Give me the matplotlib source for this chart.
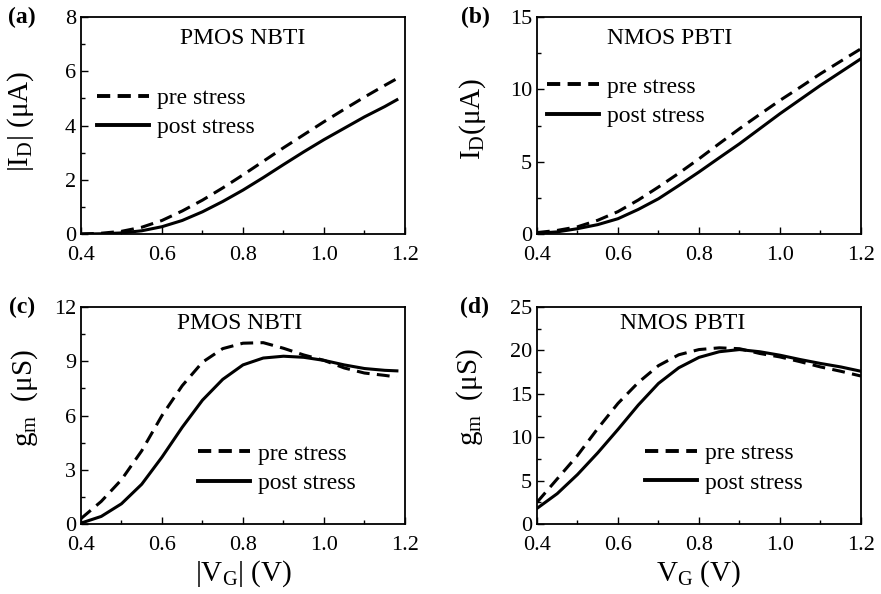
import matplotlib
matplotlib.use("Agg")
import matplotlib.pyplot as plt
from matplotlib.ticker import MultipleLocator, FormatStrFormatter

plt.rcParams['font.family'] = ['Liberation Serif', 'DejaVu Serif']
plt.rcParams['mathtext.default'] = 'regular'

# ---- data ----
vg_p = [0.40, 0.45, 0.50, 0.55, 0.60, 0.65, 0.70, 0.75, 0.80, 0.85, 0.90, 0.95, 1.00, 1.05, 1.10, 1.15, 1.18]
id_p_pre = [0.0, 0.03, 0.10, 0.25, 0.50, 0.85, 1.25, 1.70, 2.18, 2.68, 3.18, 3.66, 4.14, 4.60, 5.05, 5.48, 5.73]
id_p_post = [0.0, 0.01, 0.04, 0.12, 0.27, 0.50, 0.82, 1.20, 1.62, 2.08, 2.56, 3.03, 3.48, 3.90, 4.32, 4.70, 4.95]

vg_n = [0.40, 0.45, 0.50, 0.55, 0.60, 0.65, 0.70, 0.75, 0.80, 0.85, 0.90, 0.95, 1.00, 1.05, 1.10, 1.15, 1.20]
id_n_pre = [0.10, 0.25, 0.50, 0.95, 1.55, 2.35, 3.25, 4.20, 5.20, 6.25, 7.28, 8.27, 9.24, 10.15, 11.08, 11.95, 12.81]
id_n_post = [0.05, 0.15, 0.37, 0.65, 1.06, 1.70, 2.44, 3.35, 4.29, 5.27, 6.24, 7.28, 8.32, 9.30, 10.28, 11.20, 12.12]

gm_p_pre = [0.3, 1.25, 2.45, 4.05, 6.0, 7.65, 8.95, 9.70, 10.0, 10.03, 9.72, 9.35, 9.05, 8.63, 8.35, 8.22, 8.13]
gm_p_post = [0.05, 0.42, 1.12, 2.20, 3.70, 5.35, 6.85, 8.00, 8.80, 9.18, 9.28, 9.22, 9.05, 8.80, 8.60, 8.50, 8.47]

gm_n_pre = [2.5, 5.2, 7.9, 11.0, 13.9, 16.3, 18.25, 19.5, 20.1, 20.3, 20.2, 19.65, 19.25, 18.7, 18.1, 17.6, 17.05]
gm_n_post = [1.8, 3.5, 5.7, 8.2, 10.9, 13.7, 16.2, 18.0, 19.2, 19.85, 20.1, 19.85, 19.45, 18.95, 18.5, 18.1, 17.6]

labels = ['pre stress', 'post stress']

fig = plt.figure(figsize=(8.81, 5.94), dpi=100)
W, H = 0.3678, 0.3653
axA = fig.add_axes([0.0919, 0.606, W, H])
axB = fig.add_axes([0.6095, 0.606, W, H])
axC = fig.add_axes([0.0919, 0.1178, W, H])
axD = fig.add_axes([0.6095, 0.1178, W, H])

LW = 2.2
dash = (0, (4.2, 2.4))
TFS = 16
FS = 17
LFS = 21

def setup(ax, ymax, ymaj, ymin, title, tx, ty, ylabel, ylc, legxy):
    ax.set_xlim(0.4, 1.2)
    ax.set_ylim(0, ymax)
    ax.xaxis.set_major_locator(MultipleLocator(0.2))
    ax.xaxis.set_minor_locator(MultipleLocator(0.1))
    ax.yaxis.set_major_locator(MultipleLocator(ymaj))
    ax.yaxis.set_minor_locator(MultipleLocator(ymin))
    ax.tick_params(which='both', direction='in', top=False, right=False, labelsize=TFS, width=1.0)
    ax.tick_params(axis='x', which='major', pad=8.5)
    ax.tick_params(which='major', length=5)
    ax.tick_params(which='minor', length=3)
    ax.xaxis.set_major_formatter(FormatStrFormatter('%.1f'))
    for s in ax.spines.values():
        s.set_linewidth(1.3)
    ax.text(tx, ty, title, transform=ax.transAxes, ha='center', va='center', fontsize=FS)
    ax.set_ylabel(ylabel, fontsize=LFS)
    ax.yaxis.set_label_coords(*ylc)
    leg = ax.legend(labels, loc='upper left', bbox_to_anchor=legxy, frameon=False, fontsize=FS,
                    borderpad=0, borderaxespad=0, handlelength=2.2, handletextpad=0.35,
                    labelspacing=0.33)
    lines = leg.get_lines()
    lines[0].set_linewidth(2.8)
    lines[0].set_linestyle((0, (3.4, 1.9)))
    lines[1].set_linewidth(2.8)

axA.plot(vg_p, id_p_pre, color='black', lw=LW, linestyle=dash)
axA.plot(vg_p, id_p_post, color='black', lw=LW)
setup(axA, 8, 2, 1, 'PMOS NBTI', 0.5, 0.90, '|I$_D$| (μA)', (-0.14, 0.52), (0.05, 0.676))

axB.plot(vg_n, id_n_pre, color='black', lw=LW, linestyle=dash)
axB.plot(vg_n, id_n_post, color='black', lw=LW)
setup(axB, 15, 5, 2.5, 'NMOS PBTI', 0.41, 0.90, 'I$_D$(μA)', (-0.15, 0.53), (0.031, 0.728))

axC.plot(vg_p, gm_p_pre, color='black', lw=LW, linestyle=dash)
axC.plot(vg_p, gm_p_post, color='black', lw=LW)
setup(axC, 12, 3, 1.5, 'PMOS NBTI', 0.49, 0.926, 'g$_m$  (μS)', (-0.125, 0.58), (0.361, 0.373))
axC.set_xlabel('|V$_G$| (V)', fontsize=LFS)
axC.xaxis.set_label_coords(0.5, -0.16)

axD.plot(vg_n, gm_n_pre, color='black', lw=LW, linestyle=dash)
axD.plot(vg_n, gm_n_post, color='black', lw=LW)
setup(axD, 25, 5, 2.5, 'NMOS PBTI', 0.45, 0.926, 'g$_m$  (μS)', (-0.16, 0.585), (0.333, 0.374))
axD.set_xlabel('V$_G$ (V)', fontsize=LFS)
axD.xaxis.set_label_coords(0.5, -0.16)

for lab, x, y in [('(a)', 22, 17), ('(b)', 475, 17), ('(c)', 22, 307), ('(d)', 475, 307)]:
    fig.text(x / 881, 1 - y / 594, lab, fontsize=FS, fontweight='bold', ha='center', va='center')

fig.savefig('out.png', dpi=100)
